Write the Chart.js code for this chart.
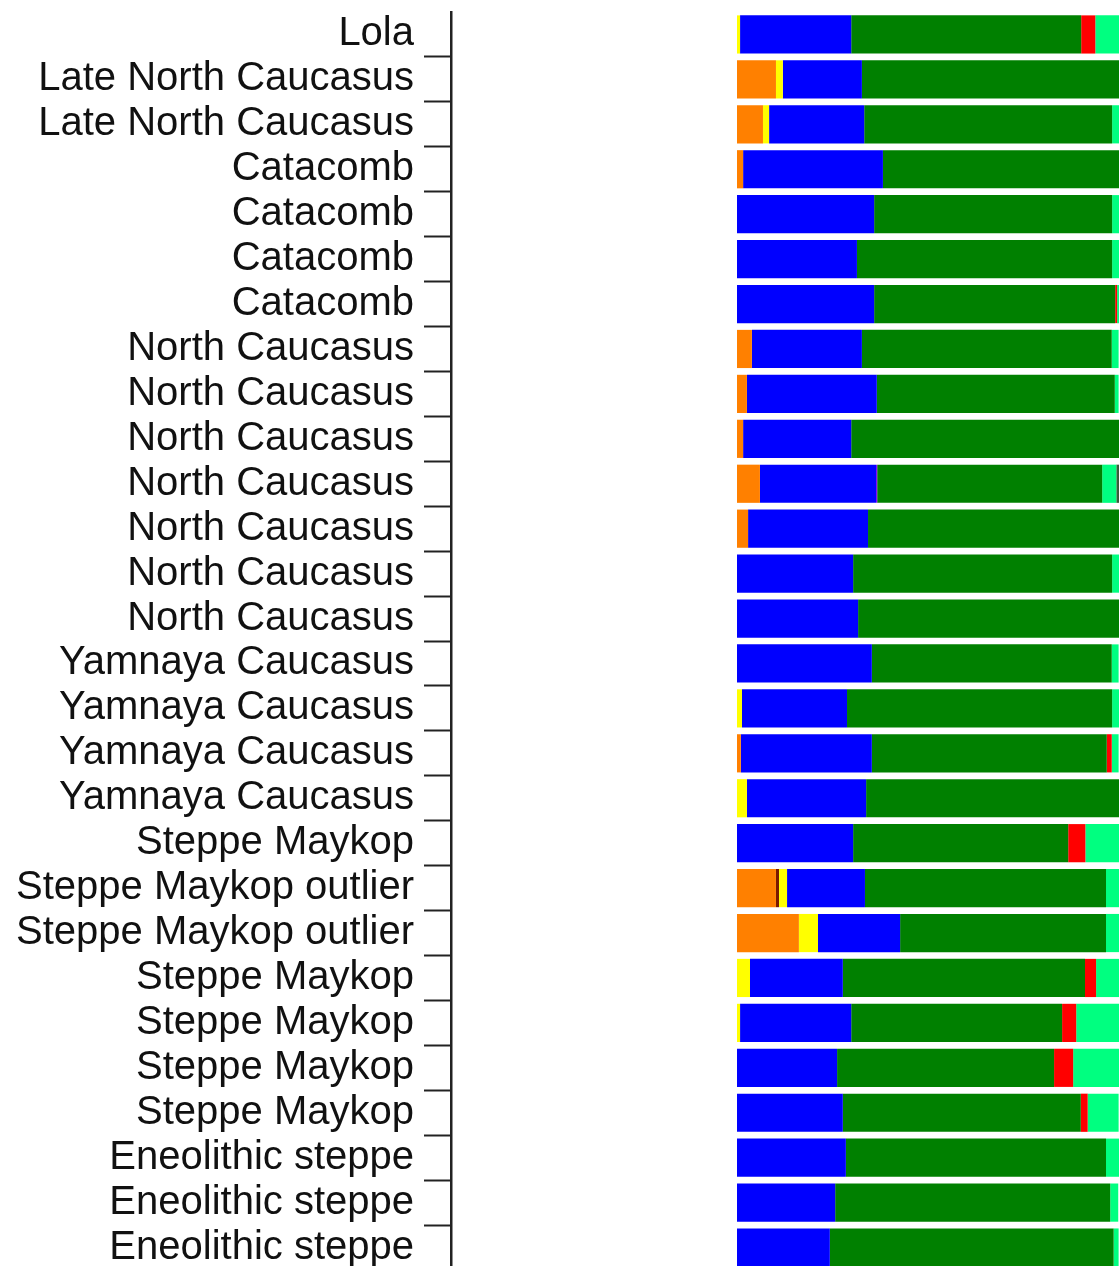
<!DOCTYPE html>
<html>
<head>
<meta charset="utf-8">
<script src="https://cdn.jsdelivr.net/npm/chart.js@4/dist/chart.umd.min.js"></script>
<style>
  html, body { margin: 0; padding: 0; background: #fff; overflow: hidden; }
  #wrap { width: 1119px; height: 1270px; }
</style>
</head>
<body>
<div id="wrap"><canvas id="chart" width="1119" height="1270"></canvas></div>
<script>
// ancestry components per sample, % of the visible bar
const groups = [
    'Lola', 'Late North Caucasus', 'Late North Caucasus',
    'Catacomb', 'Catacomb', 'Catacomb', 'Catacomb',
    'North Caucasus', 'North Caucasus', 'North Caucasus', 'North Caucasus',
    'North Caucasus', 'North Caucasus', 'North Caucasus',
    'Yamnaya Caucasus', 'Yamnaya Caucasus', 'Yamnaya Caucasus', 'Yamnaya Caucasus',
    'Steppe Maykop', 'Steppe Maykop outlier', 'Steppe Maykop outlier',
    'Steppe Maykop', 'Steppe Maykop', 'Steppe Maykop', 'Steppe Maykop',
    'Eneolithic steppe', 'Eneolithic steppe', 'Eneolithic steppe'
];

const orange     = [0, 10.2, 6.8, 1.6, 0, 0, 0, 3.9, 2.6, 1.6, 6.0, 2.9, 0, 0, 0, 0, 1.0, 0, 0, 10.2, 16.2, 0, 0, 0, 0, 0, 0, 0];
const brown      = [0, 0, 0, 0, 0, 0, 0, 0, 0, 0, 0, 0, 0, 0, 0, 0, 0, 0, 0, 0.8, 0, 0, 0, 0, 0, 0, 0, 0];
const yellow     = [0.8, 1.8, 1.6, 0, 0, 0, 0, 0, 0, 0, 0, 0, 0, 0, 0, 1.3, 0, 2.6, 0, 2.1, 5.0, 3.4, 0.8, 0, 0, 0, 0, 0];
const blue       = [29.1, 20.7, 24.9, 36.6, 35.9, 31.4, 35.9, 28.8, 34.0, 28.3, 30.4, 31.4, 30.4, 31.7, 35.3, 27.5, 34.3, 31.2, 30.4, 20.4, 21.5, 24.3, 29.1, 26.2, 27.7, 28.5, 25.7, 24.3];
const purple     = [0, 0, 0, 0, 0, 0, 0, 0, 0, 0, 0.3, 0, 0, 0, 0, 0, 0, 0, 0, 0, 0, 0, 0, 0, 0, 0, 0, 0];
const green      = [60.2, 67.3, 64.9, 61.8, 62.3, 66.8, 63.1, 65.4, 62.3, 70.2, 58.9, 65.7, 67.8, 68.3, 62.8, 69.4, 61.5, 66.2, 56.3, 63.1, 53.9, 63.4, 55.2, 56.8, 62.3, 68.1, 72.0, 74.3];
const red        = [3.7, 0, 0, 0, 0, 0, 0.5, 0, 0, 0, 0, 0, 0, 0, 0, 0, 1.3, 0, 4.5, 0, 0, 2.9, 3.7, 5.0, 1.8, 0, 0, 0];
const lightGreen = [6.3, 0, 1.8, 0, 1.8, 1.8, 0.5, 1.8, 1.0, 0, 3.7, 0, 1.8, 0, 1.8, 1.8, 1.8, 0, 8.9, 3.4, 3.4, 6.0, 11.3, 12.0, 8.1, 3.4, 2.1, 1.3];
const dark       = [0, 0, 0, 0, 0, 0, 0, 0, 0, 0, 0.8, 0, 0, 0, 0, 0, 0, 0, 0, 0, 0, 0, 0, 0, 0, 0, 0, 0];

const series = [
    { label: 'orange', data: orange, color: '#ff8000' },
    { label: 'brown', data: brown, color: '#7a1a00' },
    { label: 'yellow', data: yellow, color: '#ffff00' },
    { label: 'blue', data: blue, color: '#0000ff' },
    { label: 'purple', data: purple, color: '#8000ff' },
    { label: 'green', data: green, color: '#008000' },
    { label: 'red', data: red, color: '#ff0000' },
    { label: 'lightGreen', data: lightGreen, color: '#00ff80' },
    { label: 'dark', data: dark, color: '#3a5a3a' }
];

const axisColor = '#222';
const tickColorFn = (ctx) => ctx.index === 0 ? 'rgba(0,0,0,0)' : axisColor;

new Chart(document.getElementById('chart').getContext('2d'), {
    type: 'bar',
    data: {
        labels: groups,
        datasets: series.map(s => ({
            label: s.label,
            data: s.data,
            backgroundColor: s.color,
            borderWidth: 0,
            barPercentage: 0.85,
            categoryPercentage: 1
        }))
    },
    options: {
        indexAxis: 'y',
        responsive: false,
        animation: false,
        layout: { padding: { top: 12, right: 0, bottom: 0, left: 0 } },
        plugins: { legend: { display: false }, tooltip: { enabled: false } },
        scales: {
            x: { stacked: true, min: 0, max: 100, display: false },
            y: {
                stacked: true,
                position: 'left',
                weight: 1,
                afterFit: (scale) => {
                    scale.width = 451;
                    scale.paddingTop = 0;
                    scale.paddingBottom = 0;
                },
                border: { display: true, color: axisColor, width: 2.5 },
                grid: {
                    offset: true,
                    drawOnChartArea: false,
                    drawTicks: true,
                    tickLength: 27,
                    tickWidth: 2,
                    color: tickColorFn,
                    tickColor: tickColorFn
                },
                ticks: {
                    autoSkip: false,
                    padding: 10,
                    color: '#111',
                    font: { family: "'Liberation Sans', Arial, sans-serif", size: 40 }
                }
            },
            gap: {
                type: 'linear',
                position: 'left',
                weight: 0,
                afterFit: (scale) => {
                    scale.width = 286;
                    scale.paddingTop = 0;
                    scale.paddingBottom = 0;
                },
                border: { display: false },
                grid: { display: false },
                ticks: { display: false }
            }
        }
    }
});
</script>
</body>
</html>
